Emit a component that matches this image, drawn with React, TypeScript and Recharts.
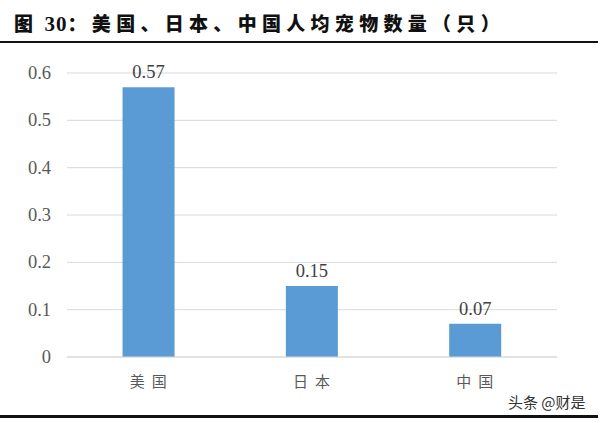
import React from 'react';
import { BarChart, Bar, XAxis, YAxis, CartesianGrid, LabelList } from 'recharts';

const categories = ['美国', '日本', '中国'];
const values = [0.57, 0.15, 0.07];
const yTicks = [0, 0.1, 0.2, 0.3, 0.4, 0.5, 0.6];

const data = categories.map((name, i) => ({ name, value: values[i] }));

const cjk = '"Noto Sans CJK SC", sans-serif';
const serif = '"Liberation Serif", "DejaVu Serif", serif';

const YTick = (props: any) => {
  const { x, y, payload } = props;
  return (
    <text x={x} y={y} dy={6} textAnchor="end" style={{ fill: '#595959', fontSize: 18.5, fontFamily: serif }}>
      {payload.value}
    </text>
  );
};

const XTick = (props: any) => {
  const { x, y, payload } = props;
  return (
    <text x={x + 3} y={y} dy={24} textAnchor="middle" style={{ fill: '#595959', fontSize: 15, fontFamily: cjk, letterSpacing: 7 }}>
      {payload.value}
    </text>
  );
};

export default function App() {
  return (
    <div style={{ position: 'absolute', left: 0, top: 0, width: 600, height: 423, background: '#fff', overflow: 'hidden' }}>
      <div
        style={{
          position: 'absolute',
          left: 14,
          top: 9,
          fontSize: 19,
          lineHeight: '28px',
          fontWeight: 900,
          fontFamily: cjk,
          letterSpacing: 5.3,
          color: '#111',
          whiteSpace: 'nowrap',
        }}
      >
        <span>图</span>
        <span style={{ fontFamily: serif, fontWeight: 700, fontSize: 21, letterSpacing: 1 }}> 30</span>
        <span>：美国、日本、中国人均宠物数量（只）</span>
      </div>
      <div style={{ position: 'absolute', left: 0, top: 41, width: 598, height: 2, background: '#111' }} />
      <div style={{ position: 'absolute', left: 0, top: 415, width: 598, height: 3, background: '#111' }} />
      <div
        style={{
          position: 'absolute',
          left: 508,
          top: 392,
          fontSize: 15,
          lineHeight: '20px',
          fontFamily: cjk,
          color: '#333',
          whiteSpace: 'nowrap',
        }}
      >
        头条 @财是
      </div>
      <div style={{ position: 'absolute', left: 0, top: 0 }}>
        <BarChart
          width={600}
          height={423}
          data={data}
          margin={{ top: 73, right: 43, bottom: 36, left: 17 }}
          barCategoryGap="34%"
        >
          <CartesianGrid vertical={false} stroke="#d9d9d9" strokeWidth={1} />
          <XAxis
            dataKey="name"
            axisLine={{ stroke: '#d9d9d9' }}
            tickLine={false}
            height={30}
            tickMargin={0}
            tick={<XTick />}
          />
          <YAxis
            domain={[0, 0.6]}
            ticks={yTicks}
            width={50}
            axisLine={false}
            tickLine={false}
            tickMargin={10}
            tick={<YTick />}
          />
          <Bar dataKey="value" fill="#5b9bd5" isAnimationActive={false}>
            <LabelList
              dataKey="value"
              position="top"
              offset={9}
              style={{ fill: '#404040', fontSize: 18.5, fontFamily: serif }}
            />
          </Bar>
        </BarChart>
      </div>
    </div>
  );
}
